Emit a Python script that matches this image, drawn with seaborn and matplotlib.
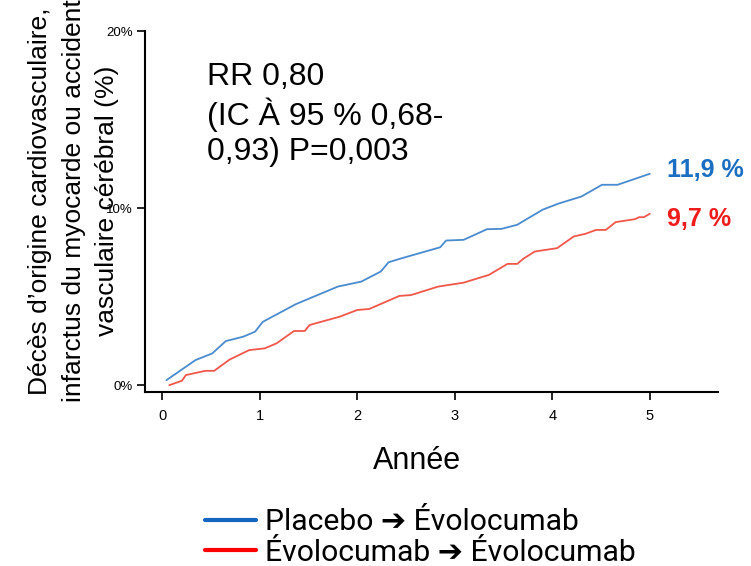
import pandas as pd
import matplotlib
matplotlib.use("Agg")
import matplotlib.pyplot as plt
import seaborn as sns
from matplotlib.lines import Line2D

# === Data ===
placebo_x = [0.04, 0.34, 0.51, 0.65, 0.83, 0.95, 1.03, 1.37, 1.80, 2.04, 2.24, 2.32, 2.43,
             2.85, 2.91, 3.09, 3.33, 3.48, 3.64, 3.90, 4.06, 4.30, 4.51, 4.67, 5.00]
placebo_y = [0.28, 1.42, 1.79, 2.49, 2.74, 3.02, 3.58, 4.58, 5.57, 5.85, 6.42, 6.94, 7.13,
             7.79, 8.17, 8.21, 8.81, 8.83, 9.06, 9.91, 10.25, 10.66, 11.32, 11.32, 11.94]
evo_x = [0.07, 0.20, 0.24, 0.44, 0.53, 0.69, 0.89, 1.05, 1.17, 1.35, 1.46, 1.51, 1.82, 2.00,
         2.12, 2.43, 2.55, 2.83, 3.09, 3.35, 3.54, 3.64, 3.70, 3.82, 4.05, 4.22, 4.34, 4.45,
         4.55, 4.65, 4.85, 4.89, 4.94, 5.00]
evo_y = [0.0, 0.25, 0.57, 0.81, 0.81, 1.45, 1.98, 2.08, 2.36, 3.06, 3.06, 3.40, 3.87, 4.25,
         4.30, 5.04, 5.09, 5.57, 5.79, 6.23, 6.85, 6.85, 7.13, 7.55, 7.74, 8.40, 8.55, 8.77,
         8.77, 9.21, 9.38, 9.49, 9.49, 9.68]

series_names = ["Placebo ➔ Évolocumab", "Évolocumab ➔ Évolocumab"]
end_labels = ["11,9 %", "9,7 %"]
y_ticks = [0, 10, 20]
y_tick_labels = ["0%", "10%", "20%"]
x_ticks = [0, 1, 2, 3, 4, 5]

line_colors = ["#4a8bd0", "#f0574a"]
label_colors = ["#1b6ec2", "#f01c1c"]
legend_colors = ["#1565c0", "#ff0000"]

df = pd.concat([
    pd.DataFrame({"annee": placebo_x, "taux": placebo_y, "groupe": series_names[0]}),
    pd.DataFrame({"annee": evo_x, "taux": evo_y, "groupe": series_names[1]}),
])

sns.set_style("ticks")
plt.rcParams["font.family"] = ["Liberation Sans", "DejaVu Sans"]
plt.rcParams["text.color"] = "black"
plt.rcParams["axes.labelcolor"] = "black"

fig = plt.figure(figsize=(7.51, 5.66), dpi=100)
ax = fig.add_axes([0.193, 0.307, 0.763, 0.638])

sns.lineplot(data=df, x="annee", y="taux", hue="groupe", hue_order=series_names,
             palette=line_colors, linewidth=1.3, legend=False, ax=ax, estimator=None, sort=False)

ax.set_xlim(-0.18, 5.7)
ax.set_ylim(-0.4, 20)
ax.set_xticks(x_ticks)
ax.set_xticklabels([str(t) for t in x_ticks], fontsize=10.5)
ax.set_yticks(y_ticks)
ax.set_yticklabels(y_tick_labels, fontsize=9.5)
ax.tick_params(axis="both", direction="out", length=6, width=1.2, colors="black", pad=3)
ax.tick_params(axis="x", pad=6)
for s in ["top", "right"]:
    ax.spines[s].set_visible(False)
for s in ["left", "bottom"]:
    ax.spines[s].set_linewidth(1.5)
    ax.spines[s].set_color("black")

ax.set_xlabel("Année", fontsize=22)
ax.xaxis.set_label_coords(0.475, -0.148)
ax.set_ylabel("Décès d’origine cardiovasculaire,\ninfarctus du myocarde ou accident\nvasculaire cérébral (%)",
              fontsize=19, linespacing=1.5)
ax.yaxis.set_label_coords(-0.045, 0.53)

# Annotation RR
ax.text(0.108, 0.915, "RR 0,80\n(IC À 95 % 0,68-\n0,93) P=0,003", transform=ax.transAxes,
        fontsize=23, va="top", ha="left", linespacing=1.22)

# Valeurs finales
ax.text(5.18, placebo_y[-1] + 0.2, end_labels[0], color=label_colors[0], fontsize=18,
        fontweight="bold", va="center", ha="left")
ax.text(5.18, evo_y[-1] - 0.3, end_labels[1], color=label_colors[1], fontsize=18,
        fontweight="bold", va="center", ha="left")

handles = [Line2D([0], [0], color=c, linewidth=3) for c in legend_colors]
fig.legend(handles, series_names, loc="upper left", bbox_to_anchor=(0.257, 0.123),
           frameon=False, handlelength=1.7, handletextpad=0.28,
           labelspacing=0.08, borderaxespad=0,
           prop={"family": ["Roboto", "DejaVu Sans"], "size": 21.7})

fig.savefig("out.png", dpi=100)
plt.close(fig)
